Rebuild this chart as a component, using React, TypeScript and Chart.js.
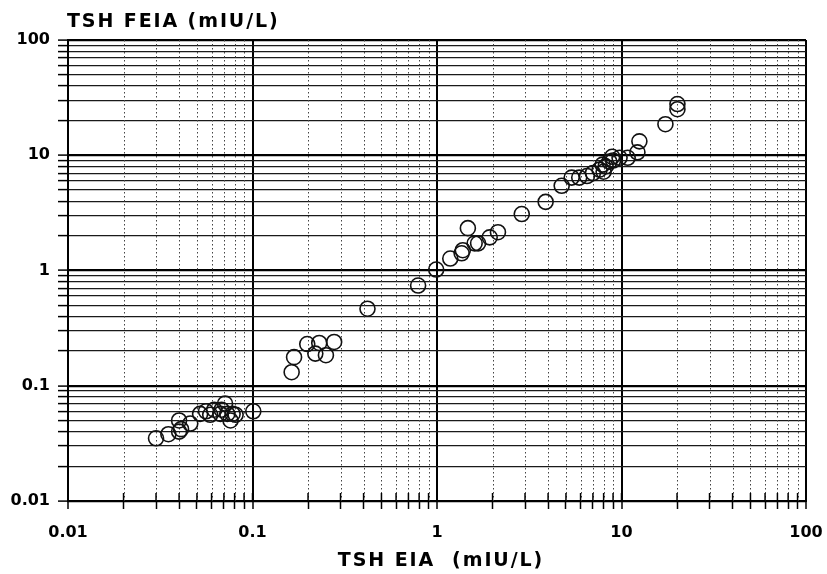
import React, { useEffect, useRef } from "react";
import { Chart, registerables } from "chart.js";

Chart.register(...registerables);

// TSH measured by EIA (x) and FEIA (y), mIU/L
const eiaValues = [
  0.030, 0.035, 0.040, 0.040, 0.041, 0.046, 0.052, 0.056, 0.059, 0.062, 0.067, 0.068, 0.071, 0.073, 0.076, 0.078, 0.081, 0.101,
  0.163, 0.168, 0.198, 0.219, 0.230, 0.250, 0.277, 0.420,
  0.79, 0.99, 1.18, 1.36, 1.38, 1.47, 1.60, 1.67, 1.93, 2.14, 2.88, 3.88,
  4.74, 5.37, 5.90, 6.50, 7.00, 7.60, 7.90, 8.00, 8.20, 8.60, 8.90, 9.00, 9.76, 10.8, 12.2, 12.5, 17.3, 20.1, 20.1,
];
const feiaValues = [
  0.035, 0.038, 0.040, 0.050, 0.042, 0.047, 0.057, 0.060, 0.056, 0.062, 0.057, 0.062, 0.070, 0.057, 0.050, 0.057, 0.056, 0.060,
  0.131, 0.177, 0.230, 0.190, 0.235, 0.184, 0.240, 0.466,
  0.74, 1.02, 1.27, 1.41, 1.50, 2.33, 1.72, 1.72, 1.94, 2.15, 3.09, 3.94,
  5.43, 6.40, 6.40, 6.60, 7.00, 7.50, 8.30, 7.20, 8.00, 8.80, 9.70, 9.00, 9.50, 9.50, 10.6, 13.2, 18.6, 25.1, 27.8,
];

const decadeTicks = [0.01, 0.1, 1, 10, 100];
const decadeLabels = ["0.01", "0.1", "1", "10", "100"];
const minorMultipliers = [2, 3, 4, 5, 6, 7, 8, 9];

const xTitle = "TSH EIA  (mIU/L)";
const yTitle = "TSH FEIA (mIU/L)";

const FONT = '"DejaVu Sans", "Liberation Sans", Arial, sans-serif';

function buildTickValues(): number[] {
  const out: number[] = [];
  decadeTicks.forEach((d, i) => {
    out.push(d);
    if (i < decadeTicks.length - 1) {
      minorMultipliers.forEach((m) => out.push(Number((d * m).toPrecision(3))));
    }
  });
  return out;
}
const tickValues = buildTickValues();

function isMajor(v: number): boolean {
  const l = Math.log10(v);
  return Math.abs(l - Math.round(l)) < 1e-6;
}
function labelFor(v: number): string {
  const i = decadeTicks.findIndex((d) => Math.abs(d - v) / d < 1e-6);
  return i >= 0 ? decadeLabels[i] : "";
}

const paperPlugin = {
  id: "paperGrid",
  beforeDatasetsDraw(chart: any) {
    const { ctx, chartArea: a, scales } = chart;
    const x = scales.x;
    ctx.save();
    // dotted minor vertical lines
    ctx.strokeStyle = "#444";
    ctx.lineWidth = 1;
    ctx.setLineDash([1.5, 2.5]);
    tickValues.filter((v) => !isMajor(v)).forEach((v) => {
      const px = Math.round(x.getPixelForValue(v)) + 0.5;
      ctx.beginPath();
      ctx.moveTo(px, a.top);
      ctx.lineTo(px, a.bottom);
      ctx.stroke();
    });
    ctx.setLineDash([]);
    // inner half of the crossing tick marks on the x axis
    ctx.strokeStyle = "#000";
    ctx.lineWidth = 1.5;
    tickValues.forEach((v) => {
      const px = x.getPixelForValue(v);
      ctx.beginPath();
      ctx.moveTo(px, a.bottom - 8);
      ctx.lineTo(px, a.bottom);
      ctx.stroke();
    });
    ctx.restore();
  },
  afterDraw(chart: any) {
    const { ctx, chartArea: a } = chart;
    ctx.save();
    ctx.fillStyle = "#000";
    ctx.font = `bold 19px ${FONT}`;
    (ctx as any).letterSpacing = "1.9px";
    ctx.textBaseline = "alphabetic";
    ctx.textAlign = "left";
    ctx.fillText(yTitle, 67, 27);
    ctx.textAlign = "center";
    ctx.fillText(xTitle, (a.left + a.right) / 2 + 4, 566);
    ctx.restore();
  },
};

export default function App() {
  const canvasRef = useRef<HTMLCanvasElement | null>(null);

  useEffect(() => {
    if (!canvasRef.current) return;
    const points = eiaValues.map((xv, i) => ({ x: xv, y: feiaValues[i] }));
    const chart = new Chart(canvasRef.current, {
      type: "scatter",
      data: {
        datasets: [
          {
            data: points,
            pointStyle: "circle",
            pointRadius: 7.5,
            pointHoverRadius: 7.5,
            pointBorderWidth: 1.6,
            borderColor: "#111",
            backgroundColor: "rgba(0,0,0,0)",
          },
        ],
      },
      options: {
        responsive: false,
        animation: false,
        devicePixelRatio: 1,
        layout: { padding: { top: 40, right: 21, bottom: 0, left: 0 } },
        plugins: {
          legend: { display: false },
          tooltip: { enabled: false },
          title: { display: false },
        },
        scales: {
          x: {
            type: "logarithmic",
            position: "bottom",
            min: 0.01,
            max: 100,
            afterBuildTicks: (s: any) => {
              s.ticks = tickValues.map((v) => ({ value: v, major: isMajor(v) }));
            },
            afterFit: (s: any) => {
              s.height = 73;
              s.paddingLeft = 0;
              s.paddingRight = 0;
            },
            ticks: {
              autoSkip: false,
              maxRotation: 0,
              minRotation: 0,
              padding: 14,
              color: "#000",
              font: { family: FONT, size: 16, weight: "bold" },
              callback: (v: any) => labelFor(Number(v)),
            },
            grid: {
              color: (c: any) => (c.tick && isMajor(c.tick.value) ? "#000" : "rgba(0,0,0,0)"),
              lineWidth: (c: any) => (c.tick && isMajor(c.tick.value) ? 2 : 1),
              tickColor: "#000",
              tickWidth: 1.5,
              tickLength: 8,
            },
            border: { display: true, color: "#000", width: 2 },
            title: { display: false },
          },
          y: {
            type: "logarithmic",
            min: 0.01,
            max: 100,
            afterBuildTicks: (s: any) => {
              s.ticks = tickValues.map((v) => ({ value: v, major: isMajor(v) }));
            },
            afterFit: (s: any) => {
              s.width = 68;
              s.paddingTop = 0;
              s.paddingBottom = 0;
            },
            ticks: {
              autoSkip: false,
              padding: 8,
              color: "#000",
              font: { family: FONT, size: 16, weight: "bold" },
              callback: (v: any) => labelFor(Number(v)),
            },
            grid: {
              color: (c: any) => (c.tick && isMajor(c.tick.value) ? "#000" : "#1a1a1a"),
              lineWidth: (c: any) => (c.tick && isMajor(c.tick.value) ? 2.2 : 1.2),
              tickColor: "#000",
              tickWidth: 1.5,
              tickLength: 10,
            },
            border: { display: true, color: "#000", width: 2 },
          },
        },
      },
      plugins: [paperPlugin],
    } as any);
    return () => chart.destroy();
  }, []);

  return (
    <div style={{ position: "absolute", left: 0, top: 0, width: 827, height: 574, background: "#fff" }}>
      <canvas ref={canvasRef} width={827} height={574} style={{ display: "block" }} />
    </div>
  );
}
